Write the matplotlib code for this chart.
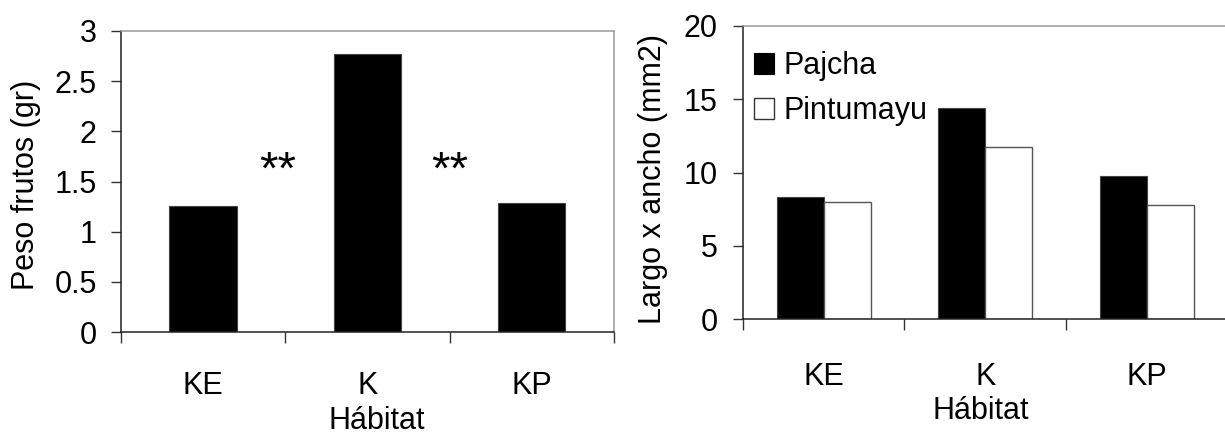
import matplotlib
matplotlib.use("Agg")
import matplotlib.pyplot as plt
from matplotlib.patches import Patch
import numpy as np

plt.rcParams['font.family'] = ['Liberation Sans', 'DejaVu Sans']

habitats = ["KE", "K", "KP"]
peso_frutos = [1.26, 2.77, 1.29]
pajcha = [8.36, 14.4, 9.77]
pintumayu = [7.98, 11.77, 7.82]
series_names = ["Pajcha", "Pintumayu"]
left_yticks = [0, 0.5, 1, 1.5, 2, 2.5, 3]
left_yticklabels = ["0", "0.5", "1", "1.5", "2", "2.5", "3"]
right_yticks = [0, 5, 10, 15, 20]

FS = 22
fig = plt.figure(figsize=(12.25, 4.36), dpi=100)

ax1 = fig.add_axes([0.0985, 0.2385, 0.4027, 0.6904])
ax2 = fig.add_axes([0.6065, 0.2677, 0.3955, 0.6727])


def style_axes(ax, ylim, yticks, yticklabels, xpad, ypad):
    x = np.arange(len(habitats))
    ax.set_xlim(-0.5, len(habitats) - 0.5)
    ax.set_ylim(*ylim)
    ax.set_yticks(yticks)
    ax.set_yticklabels(yticklabels, fontsize=FS)
    ax.tick_params(axis='y', direction='out', length=7.2, width=1,
                   color='#333333', pad=ypad)
    # boundary ticks between categories, labels centred on categories
    ax.set_xticks(np.arange(len(habitats) + 1) - 0.5)
    ax.set_xticklabels([])
    ax.set_xticks(x, minor=True)
    ax.set_xticklabels(habitats, minor=True, fontsize=FS)
    ax.tick_params(axis='x', which='major', direction='out', length=8,
                   width=1, color='#333333')
    ax.tick_params(axis='x', which='minor', length=0, pad=xpad)
    for side in ('left', 'bottom'):
        ax.spines[side].set_color('#222222')
        ax.spines[side].set_linewidth(1.1)
    for side in ('top', 'right'):
        ax.spines[side].set_color('#9a9a9a')
        ax.spines[side].set_linewidth(1.1)
    ax.set_zorder(1)


# Left panel: fruit weight per habitat
x = np.arange(len(habitats))
ax1.bar(x, peso_frutos, width=0.41, color='black', edgecolor='#444444',
        linewidth=0.8, zorder=2)
style_axes(ax1, (0, 3), left_yticks, left_yticklabels, xpad=28, ypad=10)
ax1.set_ylabel("Peso frutos (gr)", fontsize=FS)
ax1.yaxis.label.set_va('center')
ax1.yaxis.set_label_coords(-0.192, 0.49)
ax1.set_xlabel("Hábitat", fontsize=FS)
ax1.xaxis.label.set_va('baseline')
ax1.xaxis.set_label_coords(0.52, -0.322)
for xs in (0.454, 1.503):
    ax1.text(xs, 1.48, "**", fontsize=34, ha='center', va='baseline')

# Right panel: size (length x width) by habitat and site
w = 0.29
ax2.bar(x - w / 2, pajcha, width=w, color='black', edgecolor='#444444',
        linewidth=0.8, zorder=2)
ax2.bar(x + w / 2, pintumayu, width=w, color='white', edgecolor='#555555',
        linewidth=1.0, zorder=2)
style_axes(ax2, (0, 20), right_yticks, [str(v) for v in right_yticks],
           xpad=31, ypad=11)
ax2.set_ylabel("Largo x ancho (mm2)", fontsize=FS)
ax2.yaxis.label.set_va('center')
ax2.yaxis.set_label_coords(-0.185, 0.478)
ax2.set_xlabel("Hábitat", fontsize=FS)
ax2.xaxis.label.set_va('baseline')
ax2.xaxis.set_label_coords(0.49, -0.341)

handles = [Patch(facecolor='black', edgecolor='black', linewidth=0.8),
           Patch(facecolor='white', edgecolor='#333333', linewidth=1.0)]
ax2.legend(handles, series_names, loc='upper left', frameon=False,
           fontsize=FS, handlelength=0.66, handleheight=0.66,
           handletextpad=0.3, labelspacing=0.5, borderpad=0,
           borderaxespad=0, bbox_to_anchor=(754 / 1225, 1 - 51 / 436),
           bbox_transform=fig.transFigure)

fig.savefig("out.png", dpi=100)
